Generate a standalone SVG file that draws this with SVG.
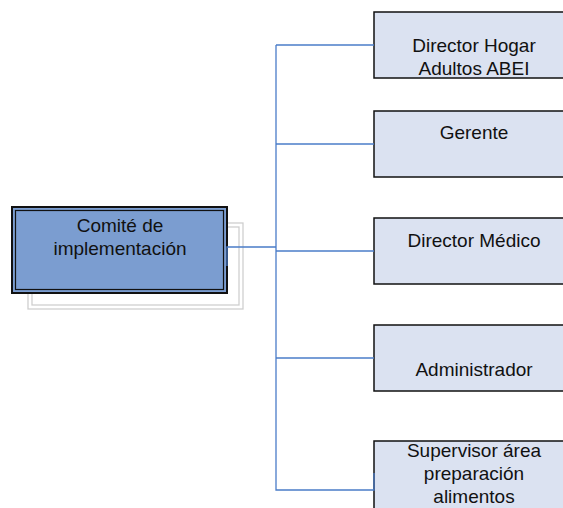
<svg xmlns="http://www.w3.org/2000/svg" width="563" height="508" viewBox="0 0 563 508">
<style>
.t{font-family:"Liberation Sans",Arial,sans-serif;font-size:19px;fill:#111;text-anchor:middle}
.box{fill:#dbe2f1;stroke:#111;stroke-width:1.5}
.con{fill:none;stroke:#4a7cc8;stroke-width:1.3}
.sh{fill:none;stroke:#cfcfcf;stroke-width:1.3}
</style>
<rect width="563" height="508" fill="#fff"/>
<g id="comite">
<rect class="sh" x="28" y="223" width="215" height="86"/>
<rect class="sh" x="32" y="227" width="207" height="78"/>
<rect x="12" y="207" width="215" height="86" fill="#7b9dd0" stroke="#111" stroke-width="2"/>
<rect x="15.5" y="210.5" width="208" height="79" fill="none" stroke="#111" stroke-width="1.2"/>
<text class="t" x="120" y="232">Comité de</text>
<text class="t" x="120" y="255">implementación</text>
</g>
<g id="director-hogar">
<rect class="box" x="374" y="12" width="200" height="66"/>
<text class="t" x="474" y="52">Director Hogar</text>
<text class="t" x="474" y="75">Adultos ABEI</text>
</g>
<g id="gerente">
<rect class="box" x="374" y="111" width="200" height="66"/>
<text class="t" x="474" y="139">Gerente</text>
</g>
<g id="director-medico">
<rect class="box" x="374" y="218" width="200" height="66"/>
<text class="t" x="474" y="247">Director Médico</text>
</g>
<g id="administrador">
<rect class="box" x="374" y="325" width="200" height="66"/>
<text class="t" x="474" y="376">Administrador</text>
</g>
<g id="supervisor">
<rect class="box" x="374" y="441" width="200" height="80"/>
<text class="t" x="474" y="457">Supervisor área</text>
<text class="t" x="474" y="480">preparación</text>
<text class="t" x="474" y="503">alimentos</text>
</g>
<g id="connectors">
<path class="con" d="M227,266 V247 H276"/>
<path class="con" d="M276,45 V490 H374 V473"/>
<path class="con" d="M276,45 H374"/>
<path class="con" d="M276,144 H374"/>
<path class="con" d="M276,251 H374"/>
<path class="con" d="M276,358 H374"/>
</g>
</svg>
